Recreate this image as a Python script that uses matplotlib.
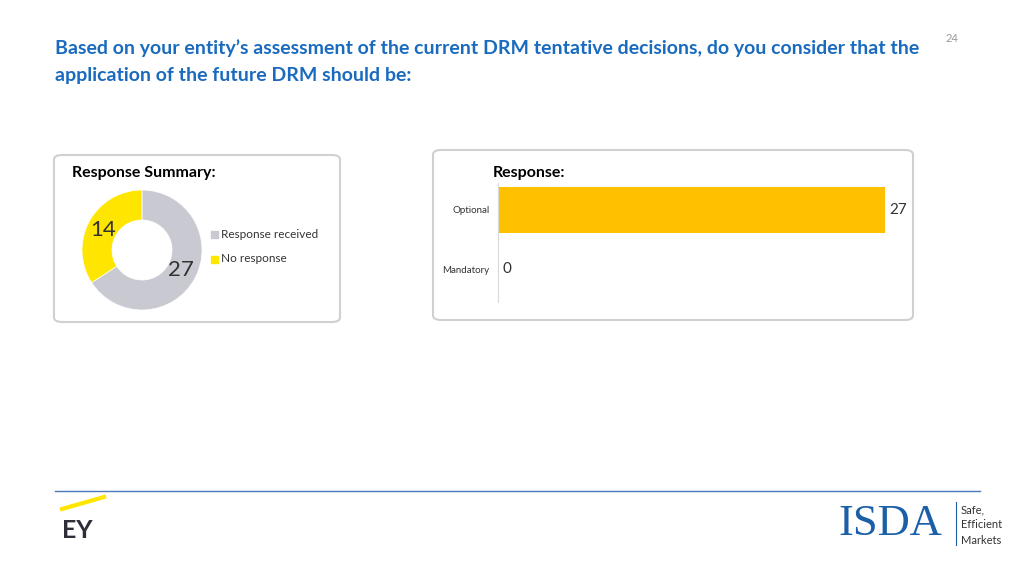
import matplotlib
matplotlib.use("Agg")
import matplotlib.pyplot as plt
from matplotlib.patches import FancyBboxPatch
from matplotlib.lines import Line2D

plt.rcParams['font.family'] = ['Lato', 'DejaVu Sans']

pie_labels = ["Response received", "No response"]
pie_values = [27, 14]
pie_colors = ["#c9c9d1", "#ffe600"]

bar_cats = ["Mandatory", "Optional"]
bar_vals = [0, 27]

W, H = 1024, 575
fig = plt.figure(figsize=(10.24, 5.75), dpi=100)
def fx(x): return x / W
def fy(y): return 1 - y / H

fig.text(fx(55), fy(48), "Based on your entity\u2019s assessment of the current DRM tentative decisions, do you consider that the",
         color="#1a6bbf", fontsize=14, fontweight="bold", va="center")
fig.text(fx(55), fy(76), "application of the future DRM should be:",
         color="#1a6bbf", fontsize=14, fontweight="bold", va="center")
fig.text(fx(952), fy(38), "24", color="#999999", fontsize=8, ha="center", va="center")

for (x0, y0, x1, y1) in [(54, 155, 340, 322), (433, 150, 913, 320)]:
    fig.patches.append(FancyBboxPatch((fx(x0), fy(y1)), fx(x1 - x0), (y1 - y0) / H,
                                      boxstyle="round,pad=0,rounding_size=0.008",
                                      transform=fig.transFigure, fill=False,
                                      edgecolor="#d0d0d0", linewidth=1.5))

fig.text(fx(72), fy(173), "Response Summary:", fontsize=11.5, fontweight="bold", va="center")
fig.text(fx(493), fy(173), "Response:", fontsize=11.5, fontweight="bold", va="center")

# donut: center (142,250), radius 60
axp = fig.add_axes([fx(82), fy(310), fx(120), 120 / H])
axp.pie(pie_values, colors=pie_colors, startangle=90, counterclock=False, radius=1,
        wedgeprops=dict(width=0.5, edgecolor="white", linewidth=0.5))
axp.set_xlim(-1, 1); axp.set_ylim(-1, 1)
axp.set_aspect("equal")
fig.text(fx(181), fy(270), str(pie_values[0]), fontsize=16, ha="center", va="center", color="#333333")
fig.text(fx(103), fy(230), str(pie_values[1]), fontsize=16, ha="center", va="center", color="#333333")
for i, (lab, c) in enumerate(zip(pie_labels, pie_colors)):
    y = 234 + i * 25
    fig.patches.append(plt.Rectangle((fx(211), fy(y + 4)), fx(7), 7 / H, color=c, transform=fig.transFigure))
    fig.text(fx(221), fy(y), lab, fontsize=8.5, va="center", color="#333333")

axb = fig.add_axes([fx(498), fy(302), fx(387), (302 - 183) / H])
axb.barh(range(len(bar_cats)), bar_vals, height=0.78, color="#ffc000")
axb.set_xlim(0, 27)
axb.set_ylim(-0.55, 1.45)
axb.set_yticks(range(len(bar_cats)))
axb.set_yticklabels(bar_cats, fontsize=7, color="#333333")
axb.set_xticks([])
for s in ["top", "right", "bottom"]:
    axb.spines[s].set_visible(False)
axb.spines["left"].set_color("#d9d9d9")
axb.tick_params(axis="y", length=0, pad=6)
for i, v in enumerate(bar_vals):
    axb.text(v + 0.3, i, str(v), va="center", ha="left", fontsize=11, color="#333333")

fig.add_artist(Line2D([fx(55), fx(980)], [fy(491), fy(491)], color="#4a78b8", linewidth=1, transform=fig.transFigure))
fig.add_artist(Line2D([fx(62), fx(104)], [fy(509), fy(497)], color="#ffe600", linewidth=3, transform=fig.transFigure))
fig.text(fx(62), fy(530), "EY", fontsize=18, fontweight="bold", va="center", color="#2e2e38")
fig.text(fx(838), fy(524), "ISDA", fontsize=32, family="Liberation Serif", va="center", color="#1a5fa8")
fig.add_artist(Line2D([fx(956), fx(956)], [fy(502), fy(545)], color="#1a5fa8", linewidth=0.8, transform=fig.transFigure))
for i, t in enumerate(["Safe,", "Efficient", "Markets"]):
    fig.text(fx(961), fy(510 + i * 15), t, fontsize=8, va="center", color="#333333")

fig.savefig("out.png", dpi=100)
